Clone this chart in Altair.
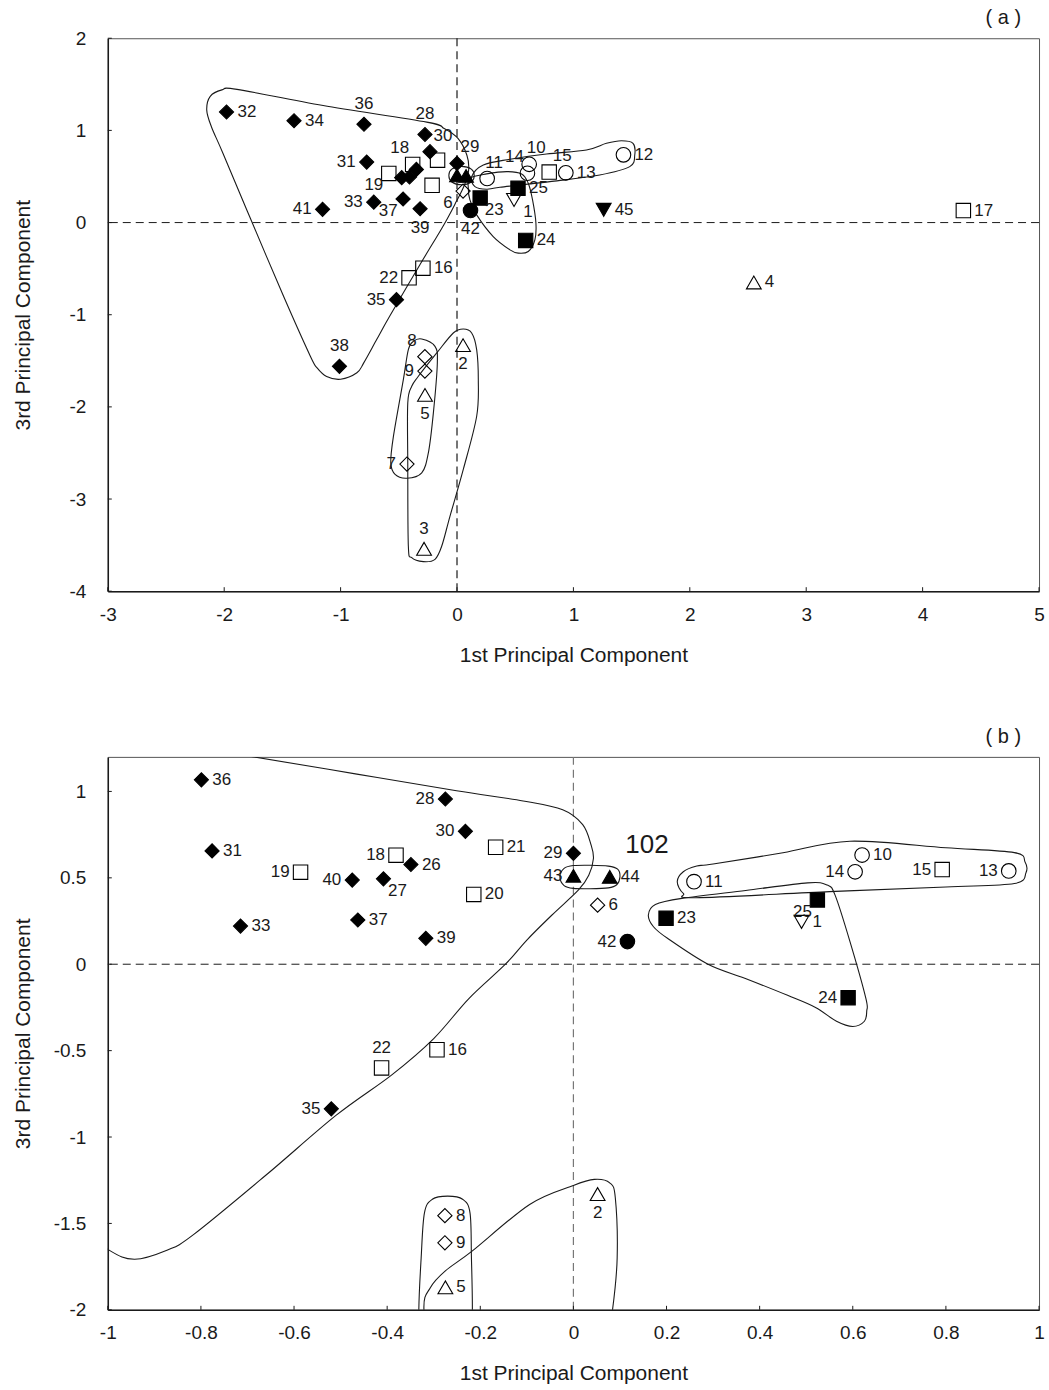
import altair as alt
import pandas as pd

FONT = "Liberation Sans"
INK = "#1a1a1a"
PLOT_W, PLOT_H = 933, 554

# ---- sample scores on the 1st and 3rd principal components ----
sample_ids = list(range(1, 46))
pc1_scores = [0.49, 0.052, -0.283, 2.55, -0.275, 0.052, -0.43, -0.276, -0.276, 0.62,
              0.259, 1.43, 0.935, 0.605, 0.792, -0.293, 4.35, -0.381, -0.586, -0.214,
              -0.167, -0.412, 0.199, 0.59, 0.524, -0.349, -0.408, -0.275, 0.0, -0.232,
              -0.776, -1.98, -0.715, -1.40, -0.52, -0.799, -0.463, -1.01, -0.317, -0.475,
              -1.155, 0.116, 0.0, 0.078, 1.26]
pc3_scores = [0.245, -1.33, -3.54, -0.65, -1.87, 0.342, -2.62, -1.455, -1.612, 0.632,
              0.478, 0.735, 0.54, 0.535, 0.548, -0.495, 0.13, 0.631, 0.533, 0.404,
              0.677, -0.60, 0.266, -0.194, 0.372, 0.577, 0.494, 0.956, 0.642, 0.769,
              0.656, 1.20, 0.221, 1.105, -0.837, 1.067, 0.256, -1.56, 0.15, 0.487,
              0.144, 0.131, 0.512, 0.506, 0.138]
sample_groups = (["tri_down_open"] + ["tri_up_open"] * 4 + ["diamond_open"] * 4
                 + ["circle_open"] * 5 + ["square_open"] * 8 + ["square_solid"] * 3
                 + ["diamond_solid"] * 16 + ["circle_solid"] + ["tri_up_solid"] * 2
                 + ["tri_down_solid"])

# marker style per group
group_names = ["diamond_solid", "diamond_open", "square_solid", "square_open",
               "circle_solid", "circle_open", "tri_up_solid", "tri_up_open",
               "tri_down_solid", "tri_down_open"]
group_shapes = ["diamond", "diamond", "square", "square", "circle", "circle",
                "triangle-up", "triangle-up", "triangle-down", "triangle-down"]
group_fills = ["black", "transparent", "black", "transparent", "black", "transparent",
               "black", "transparent", "black", "transparent"]
group_sizes = [200, 225, 170, 150, 120, 165, 150, 160, 120, 160]

# ---- label placement around each marker ----
labels_a = {32: "r", 34: "r", 36: "t", 28: "t", 30: "tr", 29: "tr", 31: "l", 18: "tl",
            19: "bl", 33: "l", 41: "l", 37: "bl", 39: "b", 6: "bl", 42: "b", 23: "br",
            1: "br", 25: "r", 24: "r", 11: "tn", 14: "tl", 10: "tn", 15: "tr", 13: "r",
            12: "r", 45: "r", 4: "r", 17: "r", 16: "r", 22: "l", 35: "l", 38: "t",
            8: "tl", 9: "l", 5: "b", 7: "l", 3: "t", 2: "b"}
labels_b = {36: "r", 28: "l", 30: "l", 21: "r", 29: "l", 31: "r", 18: "l", 26: "r",
            19: "l", 40: "l", 27: "br", 20: "r", 43: "l", 33: "r", 37: "r", 39: "r",
            44: "r", 6: "r", 42: "l", 23: "r", 11: "r", 10: "r", 14: "l", 15: "l",
            13: "l", 25: "bl", 1: "r", 24: "l", 22: "t", 16: "r", 35: "l", 8: "r",
            9: "r", 5: "r", 2: "b"}

# ---- hand-drawn cluster outlines (closed curves, data units) ----
outlines_a = {
    "blob": [(-2.02, 1.44), (-1.89, 1.445), (-1.15, 1.27), (-0.26, 1.09), (-0.11, 1.02),
             (0.01, 0.91), (0.085, 0.73), (0.10, 0.57), (0.065, 0.41), (-0.005, 0.23),
             (-0.12, -0.04), (-0.32, -0.46), (-0.58, -1.02), (-0.69, -1.27), (-0.80, -1.52),
             (-0.86, -1.63), (-1.00, -1.70), (-1.12, -1.67), (-1.20, -1.58), (-1.26, -1.45),
             (-1.49, -0.80), (-1.78, 0.06), (-2.01, 0.75), (-2.11, 1.04), (-2.15, 1.22),
             (-2.12, 1.37)],
    "pair": [(-0.07, 0.51), (-0.045, 0.58), (0.039, 0.61), (0.123, 0.58), (0.148, 0.51),
             (0.123, 0.44), (0.039, 0.41), (-0.045, 0.44)],
    "band": [(0.126, 0.498), (0.226, 0.625), (0.455, 0.687), (0.769, 0.744), (1.112, 0.788),
             (1.284, 0.86), (1.412, 0.888), (1.512, 0.86), (1.527, 0.733), (1.484, 0.607),
             (1.226, 0.517), (0.798, 0.444), (0.369, 0.383), (0.255, 0.362), (0.154, 0.39)],
    "solid_sq": [(0.111, 0.481), (0.255, 0.528), (0.426, 0.553), (0.555, 0.528), (0.612, 0.427),
                 (0.649, 0.246), (0.678, -0.007), (0.669, -0.187), (0.612, -0.314),
                 (0.526, -0.332), (0.455, -0.296), (0.311, -0.152), (0.169, 0.083),
                 (0.111, 0.246), (0.097, 0.373)],
    "open_dia": [(-0.303, -1.263), (-0.189, -1.343), (-0.169, -1.523), (-0.203, -2.065),
                 (-0.246, -2.498), (-0.303, -2.715), (-0.431, -2.774), (-0.532, -2.733),
                 (-0.569, -2.607), (-0.546, -2.318), (-0.461, -1.704), (-0.418, -1.379),
                 (-0.375, -1.289)],
    "open_tri": [(0.054, -1.155), (0.126, -1.198), (0.169, -1.379), (0.183, -1.704),
                 (0.169, -2.102), (0.054, -2.679), (-0.06, -3.185), (-0.131, -3.51),
                 (-0.189, -3.654), (-0.289, -3.679), (-0.389, -3.636), (-0.418, -3.51),
                 (-0.423, -2.607), (-0.423, -1.957), (-0.389, -1.777), (-0.332, -1.668),
                 (-0.174, -1.415), (-0.032, -1.198)],
}
outlines_b = {
    "blob": [(-1.95, 1.75), (-1.2, 1.42), (-0.70, 1.206), (-0.465, 1.10), (-0.251, 1.004),
             (-0.108, 0.945), (-0.023, 0.894), (0.020, 0.808), (0.038, 0.69), (0.043, 0.612),
             (0.033, 0.515), (0.011, 0.43), (-0.046, 0.285), (-0.10, 0.14), (-0.146, 0.0),
             (-0.225, -0.2), (-0.30, -0.43), (-0.39, -0.64), (-0.51, -0.875),
             (-0.66, -1.22), (-0.816, -1.565), (-0.873, -1.655), (-0.943, -1.707),
             (-1.0, -1.65), (-1.1, -1.45), (-1.5, -0.4), (-2.0, 0.9), (-2.1, 1.5)],
    "pair": [(-0.029, 0.506), (-0.02, 0.555), (0.0, 0.571), (0.036, 0.573), (0.075, 0.568),
             (0.095, 0.55), (0.10, 0.506), (0.093, 0.46), (0.075, 0.442), (0.036, 0.437),
             (0.0, 0.439), (-0.02, 0.455)],
    "band": [(0.223, 0.477), (0.236, 0.535), (0.265, 0.568), (0.30, 0.58), (0.45, 0.645),
             (0.594, 0.712), (0.80, 0.674), (0.947, 0.646), (0.97, 0.592), (0.972, 0.53),
             (0.947, 0.467), (0.80, 0.447), (0.55, 0.42), (0.263, 0.385), (0.236, 0.41)],
    "solid_sq": [(0.161, 0.285), (0.176, 0.346), (0.233, 0.381), (0.37, 0.427), (0.503, 0.471),
                 (0.545, 0.458), (0.562, 0.40), (0.594, 0.131), (0.628, -0.196), (0.63, -0.27),
                 (0.625, -0.33), (0.60, -0.36), (0.565, -0.33), (0.52, -0.25), (0.46, -0.18),
                 (0.368, -0.081), (0.289, 0.0), (0.202, 0.15), (0.172, 0.217)],
    "open_dia": [(-0.27, -1.342), (-0.238, -1.36), (-0.222, -1.44), (-0.219, -1.70),
                 (-0.217, -2.0), (-0.22, -2.3), (-0.28, -2.5), (-0.33, -2.3), (-0.332, -2.0),
                 (-0.327, -1.70), (-0.32, -1.44), (-0.303, -1.36)],
    "open_tri": [(0.045, -1.245), (0.078, -1.265), (0.09, -1.351), (0.094, -1.698),
                 (0.084, -2.0), (0.06, -2.4), (-0.1, -2.6), (-0.3, -2.4), (-0.321, -2.0),
                 (-0.307, -1.871), (-0.275, -1.775), (-0.217, -1.659), (-0.094, -1.39),
                 (0.0, -1.28)],
}

# extra annotation in panel (b)
note_text = ["102"]
note_pc1 = [0.158]
note_pc3 = [0.692]

# label offsets in pixels for each placement code
PLACEMENT = {
    "r": dict(align="left", dx=11, dy=0),
    "l": dict(align="right", dx=-11, dy=0),
    "t": dict(align="center", dx=0, dy=-20),
    "b": dict(align="center", dx=0, dy=19),
    "tr": dict(align="center", dx=13, dy=-16),
    "tn": dict(align="center", dx=7, dy=-16),
    "tl": dict(align="center", dx=-13, dy=-16),
    "br": dict(align="center", dx=14, dy=12),
    "bl": dict(align="center", dx=-15, dy=12),
}

points = pd.DataFrame({"id": sample_ids, "pc1": pc1_scores, "pc3": pc3_scores,
                       "group": sample_groups})


def outline_frame(outlines):
    rows = []
    for name, pts in outlines.items():
        for i, (px, py) in enumerate(pts):
            rows.append({"ring": name, "seq": i, "pc1": px, "pc3": py})
    return pd.DataFrame(rows)


def panel(tag, x_dom, y_dom, x_ticks, y_ticks, label_pos, outlines, vline_color,
          with_note=False):
    xs = alt.Scale(domain=x_dom, nice=False, zero=False)
    ys = alt.Scale(domain=y_dom, nice=False, zero=False)
    common = dict(grid=False, ticks=False, tickSize=0, domainColor=INK, domainWidth=1.5,
                  labelFont=FONT, labelFontSize=19, labelColor=INK, labelFlush=False,
                  labelOverlap=False, labelExpr="toString(datum.value)",
                  titleFont=FONT, titleFontSize=21, titleFontWeight="normal",
                  titleColor=INK, titleBaseline="middle")
    X = alt.X("pc1:Q", scale=xs,
              axis=alt.Axis(values=x_ticks, title="1st Principal Component",
                            labelPadding=14, titleY=64, **common))
    Y = alt.Y("pc3:Q", scale=ys,
              axis=alt.Axis(values=y_ticks, title="3rd Principal Component",
                            labelPadding=22, titleX=-84, titleY=PLOT_H / 2, **common))

    pts = points[(points.pc1 >= x_dom[0]) & (points.pc1 <= x_dom[1])
                 & (points.pc3 >= y_dom[0]) & (points.pc3 <= y_dom[1])]

    rings = alt.Chart(outline_frame(outlines)).mark_line(
        interpolate="cardinal-closed", clip=True, color=INK, strokeWidth=1.1
    ).encode(x=X, y=Y, detail="ring:N", order="seq:Q")

    hzero = alt.Chart(pd.DataFrame({"pc3": [0]})).mark_rule(
        color=INK, strokeWidth=1, strokeDash=[8, 5]).encode(y=Y)
    vzero = alt.Chart(pd.DataFrame({"pc1": [0]})).mark_rule(
        color=vline_color, strokeWidth=1.2, strokeDash=[8, 5]).encode(x=X)

    xticks = alt.Chart(pd.DataFrame({"pc1": x_ticks})).mark_rule(
        color=INK, strokeWidth=1).encode(x=X, y=alt.value(PLOT_H), y2=alt.value(PLOT_H - 4))
    yticks = alt.Chart(pd.DataFrame({"pc3": y_ticks})).mark_rule(
        color=INK, strokeWidth=1).encode(y=Y, x=alt.value(0), x2=alt.value(4))

    marks = alt.Chart(pts).mark_point(filled=True, opacity=1, strokeWidth=1.1,
                                      stroke="black").encode(
        x=X, y=Y,
        shape=alt.Shape("group:N", scale=alt.Scale(domain=group_names, range=group_shapes),
                        legend=None),
        fill=alt.Fill("group:N", scale=alt.Scale(domain=group_names, range=group_fills),
                      legend=None),
        size=alt.Size("group:N", scale=alt.Scale(domain=group_names, range=group_sizes),
                      legend=None),
    )

    lab = pts[pts.id.isin(label_pos.keys())].copy()
    lab["pos"] = lab.id.map(label_pos)
    lab["txt"] = lab.id.astype(str)
    label_layers = []
    for code, opts in PLACEMENT.items():
        sub = lab[lab.pos == code]
        if len(sub) == 0:
            continue
        label_layers.append(
            alt.Chart(sub).mark_text(font=FONT, fontSize=17, color=INK, baseline="middle",
                                     **opts).encode(x=X, y=Y, text="txt:N"))

    # panel letter above the top-right corner of the frame
    letter = alt.Chart(pd.DataFrame({"tag": [tag]})).mark_text(
        font=FONT, fontSize=20, color=INK, align="right", baseline="middle"
    ).encode(x=alt.value(PLOT_W - 18), y=alt.value(-20), text="tag:N")

    layers = [hzero, vzero, rings, xticks, yticks, marks] + label_layers + [letter]
    if with_note:
        note = alt.Chart(pd.DataFrame({"pc1": note_pc1, "pc3": note_pc3,
                                       "txt": note_text})).mark_text(
            font=FONT, fontSize=26, color=INK, baseline="middle").encode(x=X, y=Y, text="txt:N")
        layers.append(note)

    return alt.layer(*layers).properties(width=PLOT_W, height=PLOT_H)


panel_a = panel("( a )", [-3, 5], [-4, 2], list(range(-3, 6)), list(range(-4, 3)),
                labels_a, outlines_a, INK)
panel_b = panel("( b )", [-1, 1], [-2, 1.2],
                [-1, -0.8, -0.6, -0.4, -0.2, 0, 0.2, 0.4, 0.6, 0.8, 1],
                [-2, -1.5, -1, -0.5, 0, 0.5, 1],
                labels_b, outlines_b, "#777777", with_note=True)

chart = alt.vconcat(panel_a, panel_b, spacing=60).properties(
    padding={"left": 12, "top": 6, "right": 4, "bottom": 0}
).configure_view(stroke="#555555", strokeWidth=1)

chart.save("out.html", embed_options={"renderer": "svg", "actions": False})
